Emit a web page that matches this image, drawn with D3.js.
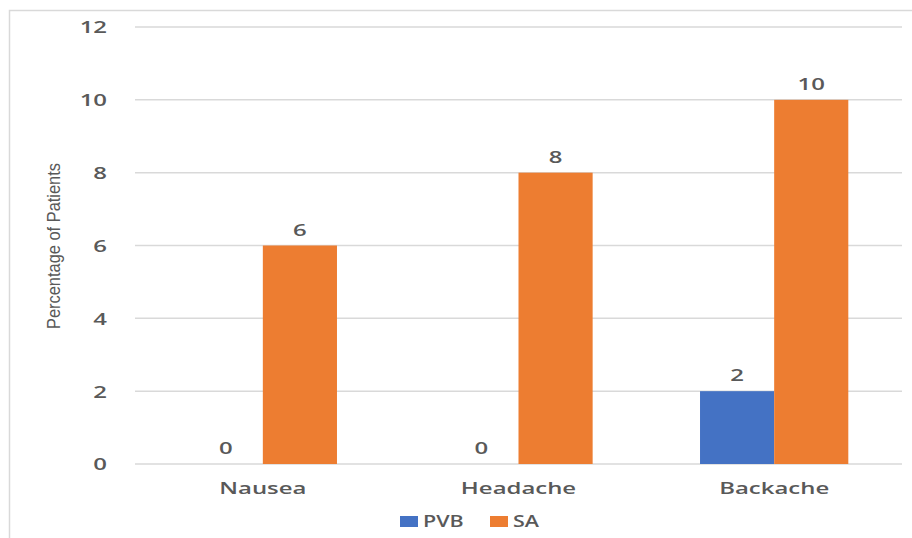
<!DOCTYPE html>
<html>
<head>
<meta charset="utf-8">
<script src="https://cdn.jsdelivr.net/npm/d3@7"></script>
<style>
  html, body { margin: 0; padding: 0; background: #fff; }
  svg { display: block; }
</style>
</head>
<body>
<svg id="chart" width="912" height="538"></svg>
<script>
const categories = ["Nausea", "Headache", "Backache"];
const seriesNames = ["PVB", "SA"];
const pvbValues = [0, 0, 2];
const saValues = [6, 8, 10];
const yTicks = [0, 2, 4, 6, 8, 10, 12];
const seriesColors = ["#4472C4", "#ED7D31"];

const svg = d3.select("#chart");
const textColor = "#595959";
const K = 1.45; // horizontal stretch of the source image's text

function stretch(sel, k) {
  sel.each(function () {
    const w = this.getComputedTextLength();
    this.setAttribute("textLength", w * k);
    this.setAttribute("lengthAdjust", "spacingAndGlyphs");
  });
}

// outer chart border
svg.append("rect").attr("x", 9.5).attr("y", 10.5).attr("width", 920).attr("height", 540)
  .attr("fill", "#fff").attr("stroke", "#d9d9d9").attr("stroke-width", 1.5);

const plotLeft = 135, plotRight = 902, plotTop = 27, plotBottom = 464;

const y = d3.scaleLinear().domain([0, 12]).range([plotBottom, plotTop]);
const x0 = d3.scaleBand().domain(categories).range([plotLeft, plotRight])
  .paddingInner(0.42).paddingOuter(0.21);
const x1 = d3.scaleBand().domain(seriesNames).range([0, x0.bandwidth()]);

// gridlines
svg.append("g").selectAll("line").data(yTicks).join("line")
  .attr("x1", plotLeft).attr("x2", plotRight)
  .attr("y1", d => y(d)).attr("y2", d => y(d))
  .attr("stroke", "#d9d9d9").attr("stroke-width", 1.5);

// y axis labels
const yAxis = svg.append("g")
  .attr("transform", `translate(107,0)`)
  .call(d3.axisLeft(y).tickValues(yTicks).tickSize(0).tickPadding(0));
yAxis.select(".domain").remove();
yAxis.selectAll("text")
  .attr("fill", textColor).attr("font-family", "Open Sans").attr("font-weight", 600)
  .attr("font-size", 16.5).attr("dy", "0.36em")
  .call(stretch, K);

// bars
const data = categories.map((c, i) => ({ cat: c, vals: [pvbValues[i], saValues[i]] }));
const groups = svg.append("g").selectAll("g").data(data).join("g")
  .attr("transform", d => `translate(${x0(d.cat)},0)`);
groups.selectAll("rect").data(d => d.vals.map((v, j) => ({ s: seriesNames[j], v, j }))).join("rect")
  .attr("x", d => x1(d.s)).attr("width", x1.bandwidth())
  .attr("y", d => y(d.v)).attr("height", d => plotBottom - y(d.v))
  .attr("fill", d => seriesColors[d.j]);

// data labels
groups.selectAll("text").data(d => d.vals.map((v, j) => ({ s: seriesNames[j], v, j }))).join("text")
  .attr("x", d => x1(d.s) + x1.bandwidth() / 2)
  .attr("y", d => y(d.v) - 10)
  .attr("text-anchor", "middle")
  .attr("fill", textColor).attr("font-family", "Open Sans").attr("font-weight", 600)
  .attr("font-size", 16.5)
  .text(d => d.v)
  .call(stretch, K);

// x axis labels
const xAxis = svg.append("g")
  .attr("transform", `translate(0,${plotBottom})`)
  .call(d3.axisBottom(x0).tickSize(0).tickPadding(0));
xAxis.select(".domain").remove();
xAxis.selectAll("text")
  .attr("fill", textColor).attr("font-family", "Open Sans").attr("font-weight", 600)
  .attr("font-size", 16.5).attr("dy", "0").attr("y", 30)
  .call(stretch, K);

// y title
svg.append("text")
  .attr("transform", `translate(60,246) rotate(-90)`)
  .attr("text-anchor", "middle")
  .attr("fill", textColor).attr("font-family", "Liberation Sans Narrow, Arial Narrow, sans-serif")
  .attr("font-size", 19)
  .text("Percentage of Patients")
  .each(function () {
    this.setAttribute("textLength", 166);
    this.setAttribute("lengthAdjust", "spacingAndGlyphs");
  });

// legend
const legendX = [400, 490];
const legend = svg.append("g").selectAll("g").data(seriesNames).join("g")
  .attr("transform", (d, i) => `translate(${legendX[i]},516)`);
legend.append("rect").attr("width", 18).attr("height", 11)
  .attr("fill", (d, i) => seriesColors[i]);
legend.append("text").attr("x", 23).attr("y", 11)
  .attr("fill", textColor).attr("font-family", "Open Sans").attr("font-weight", 600)
  .attr("font-size", 16.5)
  .text(d => d)
  .call(stretch, 1.3);
</script>
</body>
</html>
